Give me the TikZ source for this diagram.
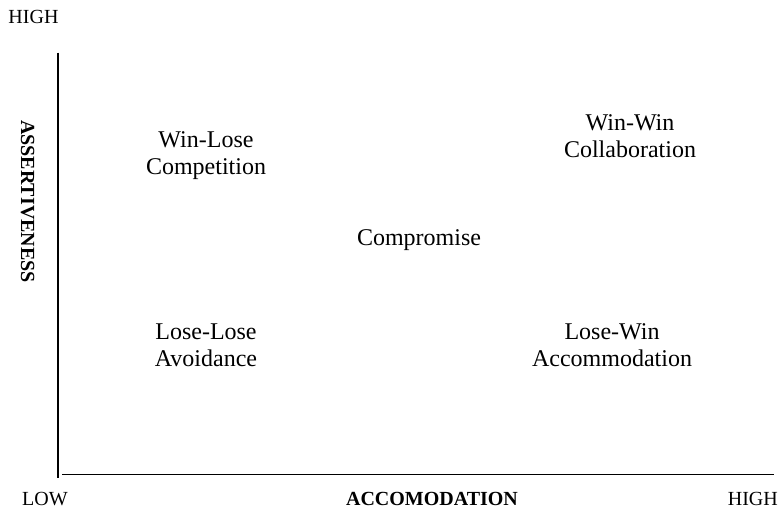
\documentclass[tikz,border=0pt]{standalone}
\usepackage{fontspec}
\setmainfont{Liberation Serif}
\begin{document}
\begin{tikzpicture}[x=1pt,y=-1pt,
  axis/.style={line width=1.5pt,black},
  quad/.style={align=center,anchor=base,inner sep=0pt,font=\fontsize{24}{27}\selectfont},
  tick/.style={anchor=base,inner sep=0pt,font=\fontsize{20}{24}\selectfont},
  title/.style={anchor=base,inner sep=0pt,font=\fontsize{20}{24}\selectfont\bfseries}]
\useasboundingbox (0,0) rectangle (780,508);
\coordinate (vtop) at (58,52.7);
\coordinate (vbot) at (58,478);
\coordinate (hl) at (62.3,474.5);
\coordinate (hr) at (774,474.5);
\draw[axis] (vtop) -- (vbot);
\draw[axis] (hl) -- (hr);
\node[tick,anchor=base west] (hy) at (8.3,24) {HIGH};
\node[tick,anchor=base west] (lo) at (22,505) {LOW};
\node[tick,anchor=base east] (hx) at (778,505) {HIGH};
\node[title] (acc) at (432,505) {ACCOMODATION};
\node[title,rotate=-90] (ass) at (21,201.5) {ASSERTIVENESS};
\node[quad] (wl) at (206,175) {Win-Lose\\Competition};
\node[quad] (ww) at (630,157.5) {Win-Win\\Collaboration};
\node[quad] (cp) at (419,246) {Compromise};
\node[quad] (ll) at (206,366) {Lose-Lose\\Avoidance};
\node[quad] (lw) at (612,366) {Lose-Win\\Accommodation};
\end{tikzpicture}
\end{document}
